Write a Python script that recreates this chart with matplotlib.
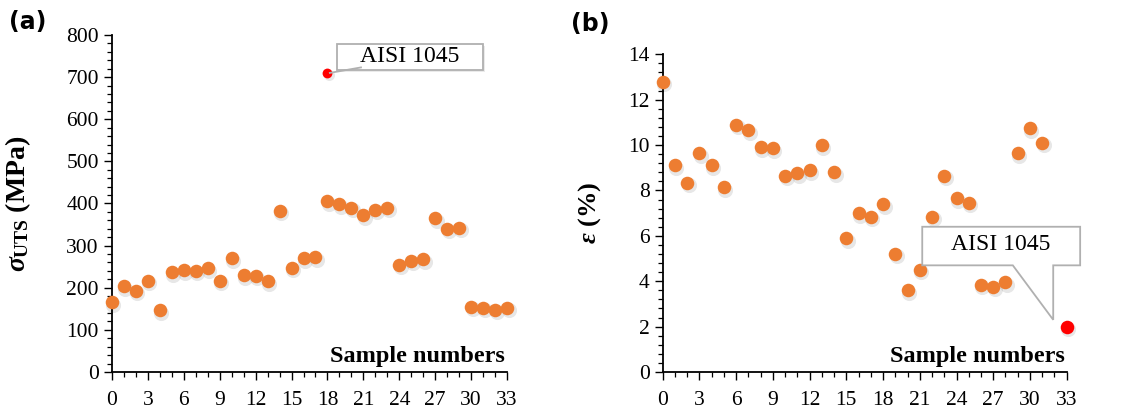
import numpy as np
import matplotlib
matplotlib.use('Agg')
import matplotlib.pyplot as plt
from matplotlib.patches import Polygon, Rectangle
from matplotlib import transforms

plt.rcParams['font.family'] = 'Liberation Serif'
plt.rcParams['mathtext.fontset'] = 'custom'
plt.rcParams['mathtext.rm'] = 'Liberation Serif:bold'
plt.rcParams['mathtext.it'] = 'Liberation Serif:italic:bold'
plt.rcParams['mathtext.bf'] = 'Liberation Serif:bold'

ORANGE = '#ED7D31'
RED = '#FF0000'

# (a) ultimate tensile strength, MPa
uts_samples = list(range(34))
uts = [165, 203, 193, 217, 147, 237, 242, 240, 246, 217, 270, 230, 229, 215, 383, 248,
       270, 272, 405, 398, 390, 372, 385, 390, 255, 264, 268, 365, 340, 343, 155, 152,
       148, 153]
uts_steel_x = [18]
uts_steel = [710]

# (b) elongation, %
el_samples = list(range(32))
el = [12.8, 9.1, 8.35, 9.65, 9.1, 8.15, 10.9, 10.65, 9.9, 9.85, 8.65, 8.75, 8.9, 10.0,
      8.8, 5.9, 7.0, 6.85, 7.4, 5.2, 3.6, 4.5, 6.85, 8.65, 7.65, 7.45, 3.85, 3.75, 3.95,
      9.65, 10.75, 10.1]
el_steel_x = [33]
el_steel = [2.0]

xticks = list(range(0, 34, 3))

fig = plt.figure(figsize=(11.45, 4.15), dpi=100)
ax1 = fig.add_axes([0.0978, 0.1036, 0.345, 0.8121])
ax2 = fig.add_axes([0.5788, 0.1036, 0.3528, 0.7656])


def style(ax, ymax, ymajor, yminor):
    ax.set_xlim(0, 33)
    ax.set_ylim(0, ymax)
    for s in ['top', 'right']:
        ax.spines[s].set_visible(False)
    for s in ['left', 'bottom']:
        ax.spines[s].set_linewidth(1.3)
    ax.set_xticks(xticks)
    ax.set_xticks(range(34), minor=True)
    ax.set_yticks(np.arange(0, ymax + ymajor / 2, ymajor))
    ax.set_yticks(np.arange(0, ymax + yminor / 2, yminor), minor=True)
    ax.tick_params(which='major', length=6, width=1.0, labelsize=15.5, direction='out')
    ax.tick_params(which='minor', length=3.5, width=0.9, direction='out')
    ax.tick_params(axis='x', pad=8)
    ax.text(0.995, 0.015, 'Sample numbers', transform=ax.transAxes, ha='right', va='bottom',
            fontsize=17.5, fontweight='bold')


def dots(ax, x, y, color, s):
    shadow = transforms.offset_copy(ax.transData, fig=fig, x=1.5, y=-2.5, units='dots')
    ax.scatter(x, y, s=s * 1.25, color='#888888', alpha=0.2, linewidths=0,
               transform=shadow, clip_on=False, zorder=2)
    ax.scatter(x, y, s=s, color=color, linewidths=0, clip_on=False, zorder=3)


# panel (a)
style(ax1, 800, 100, 20)
dots(ax1, uts_samples, uts, ORANGE, 95)
dots(ax1, uts_steel_x, uts_steel, RED, 50)
ax1.set_ylabel(r'$\sigma_{\mathrm{UTS}}$ (MPa)', fontsize=20, fontweight='bold')
ax1.yaxis.set_label_coords(-0.2, 0.5)
bx, by = uts_steel_x[0] + 0.8, uts_steel[0] + 7
ax1.add_patch(Rectangle((bx + 0.15, by - 4), 12.2, 62, facecolor='#dddddd', edgecolor='none',
                        alpha=0.6, zorder=4, clip_on=False))
ax1.add_patch(Rectangle((bx, by), 12.2, 62, facecolor='white', edgecolor='#b0b0b0',
                        linewidth=1.3, zorder=5, clip_on=False))
ax1.plot([uts_steel_x[0] + 0.2, bx + 2.0], [uts_steel[0], by + 6], color='#b0b0b0', lw=1.3,
         zorder=5, clip_on=False)
ax1.text(bx + 6.1, by + 31, 'AISI 1045', ha='center', va='center', fontsize=17, zorder=6)

# panel (b)
style(ax2, 14, 2, 0.4)
dots(ax2, el_samples, el, ORANGE, 95)
dots(ax2, el_steel_x, el_steel, RED, 95)
ax2.set_ylabel(r'$\varepsilon$ (%)', fontsize=19, fontweight='bold')
ax2.yaxis.set_label_coords(-0.148, 0.5)
tx, ty = el_steel_x[0] - 1.1, el_steel[0] + 0.3
callout = [(tx - 10.7, ty + 4.1), (tx + 2.2, ty + 4.1), (tx + 2.2, ty + 2.4),
           (tx, ty + 2.4), (tx, ty), (tx - 3.3, ty + 2.4), (tx - 10.7, ty + 2.4)]
ax2.add_patch(Polygon(callout, closed=True, facecolor='white', edgecolor='#b0b0b0',
                      linewidth=1.3, zorder=5, clip_on=False))
ax2.text(tx - 4.3, ty + 3.3, 'AISI 1045', ha='center', va='center', fontsize=17, zorder=6)

fig.text(0.008, 0.93, '(a)', fontsize=17, fontweight='bold', family='DejaVu Sans')
fig.text(0.499, 0.925, '(b)', fontsize=17, fontweight='bold', family='DejaVu Sans')

fig.savefig('out.png', dpi=100)
